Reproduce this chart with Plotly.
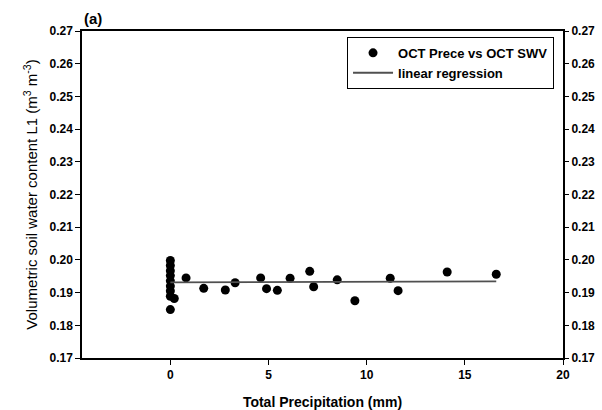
import plotly.graph_objects as go

precip = [0, 0, 0, 0, 0, 0, 0, 0, 0, 0.2, 0.8, 1.7, 2.8, 3.3, 4.6, 4.9, 5.45, 6.1, 7.1, 7.3,
          8.5, 9.4, 11.2, 11.6, 14.1, 16.6]
swv = [0.1998, 0.1983, 0.1967, 0.1952, 0.1936, 0.1920, 0.1905, 0.1889, 0.1848, 0.1882, 0.1945,
       0.1913, 0.1908, 0.1930, 0.1945, 0.1912, 0.1907, 0.1944, 0.1965, 0.1918,
       0.1939, 0.1875, 0.1944, 0.1906, 0.1963, 0.1956]

# regression line
reg_intercept = 0.1931
reg_slope = 0.00002
reg_x = [min(precip), max(precip)]
reg_y = [reg_intercept + reg_slope * v for v in reg_x]

font_family = "Liberation Sans, Arial, sans-serif"

fig = go.Figure()
fig.add_trace(go.Scatter(x=precip, y=swv, mode="markers", name="OCT Prece vs OCT SWV",
                         marker=dict(color="black", size=9)))
fig.add_trace(go.Scatter(x=reg_x, y=reg_y, mode="lines", name="linear regression",
                         line=dict(color="#505050", width=1.8)))
fig.add_trace(go.Scatter(x=[None], y=[None], yaxis="y2", showlegend=False))

fig.update_layout(
    width=602, height=410,
    margin=dict(l=82, r=39, t=31, b=52),
    plot_bgcolor="white", paper_bgcolor="white",
    font=dict(family=font_family, color="black"),
    showlegend=True,
    legend=dict(x=0.551, y=0.982, xanchor="left", yanchor="top",
                bordercolor="black", borderwidth=1, bgcolor="white",
                font=dict(size=13, family=font_family, weight="bold"),
                tracegroupgap=0, itemwidth=40),
    xaxis=dict(range=[-4.5, 20], tickvals=[0, 5, 10, 15, 20], automargin=False,
               ticks="outside", ticklen=5, tickcolor="black",
               showline=True, linecolor="black", linewidth=1.5, mirror=True,
               showgrid=False, zeroline=False,
               tickfont=dict(size=12, weight="bold"),
               title=dict(text="<b>Total Precipitation (mm)</b>", font=dict(size=14), standoff=16)),
    yaxis=dict(range=[0.17, 0.27], dtick=0.01, tickformat=".2f", automargin=False,
               ticks="outside", ticklen=5, tickcolor="black",
               showline=True, linecolor="black", linewidth=1.5, mirror=True,
               showgrid=False, zeroline=False,
               tickfont=dict(size=12, weight="bold"),
               title=dict(text="Volumetric soil water content L1 (m<sup>3</sup> m<sup>-3</sup>)",
                          font=dict(size=15), standoff=8)),
    yaxis2=dict(range=[0.17, 0.27], dtick=0.01, tickformat=".2f", overlaying="y", side="right",
                automargin=False,
                ticks="outside", ticklen=5, tickcolor="black", showgrid=False, zeroline=False,
                showline=False, tickfont=dict(size=12, weight="bold")),
    annotations=[dict(text="<b>(a)</b>", x=0, y=1.0, xref="paper", yref="paper",
                      xanchor="left", yanchor="bottom", showarrow=False,
                      font=dict(size=15), yshift=2)],
)

fig.write_html("out.html")
